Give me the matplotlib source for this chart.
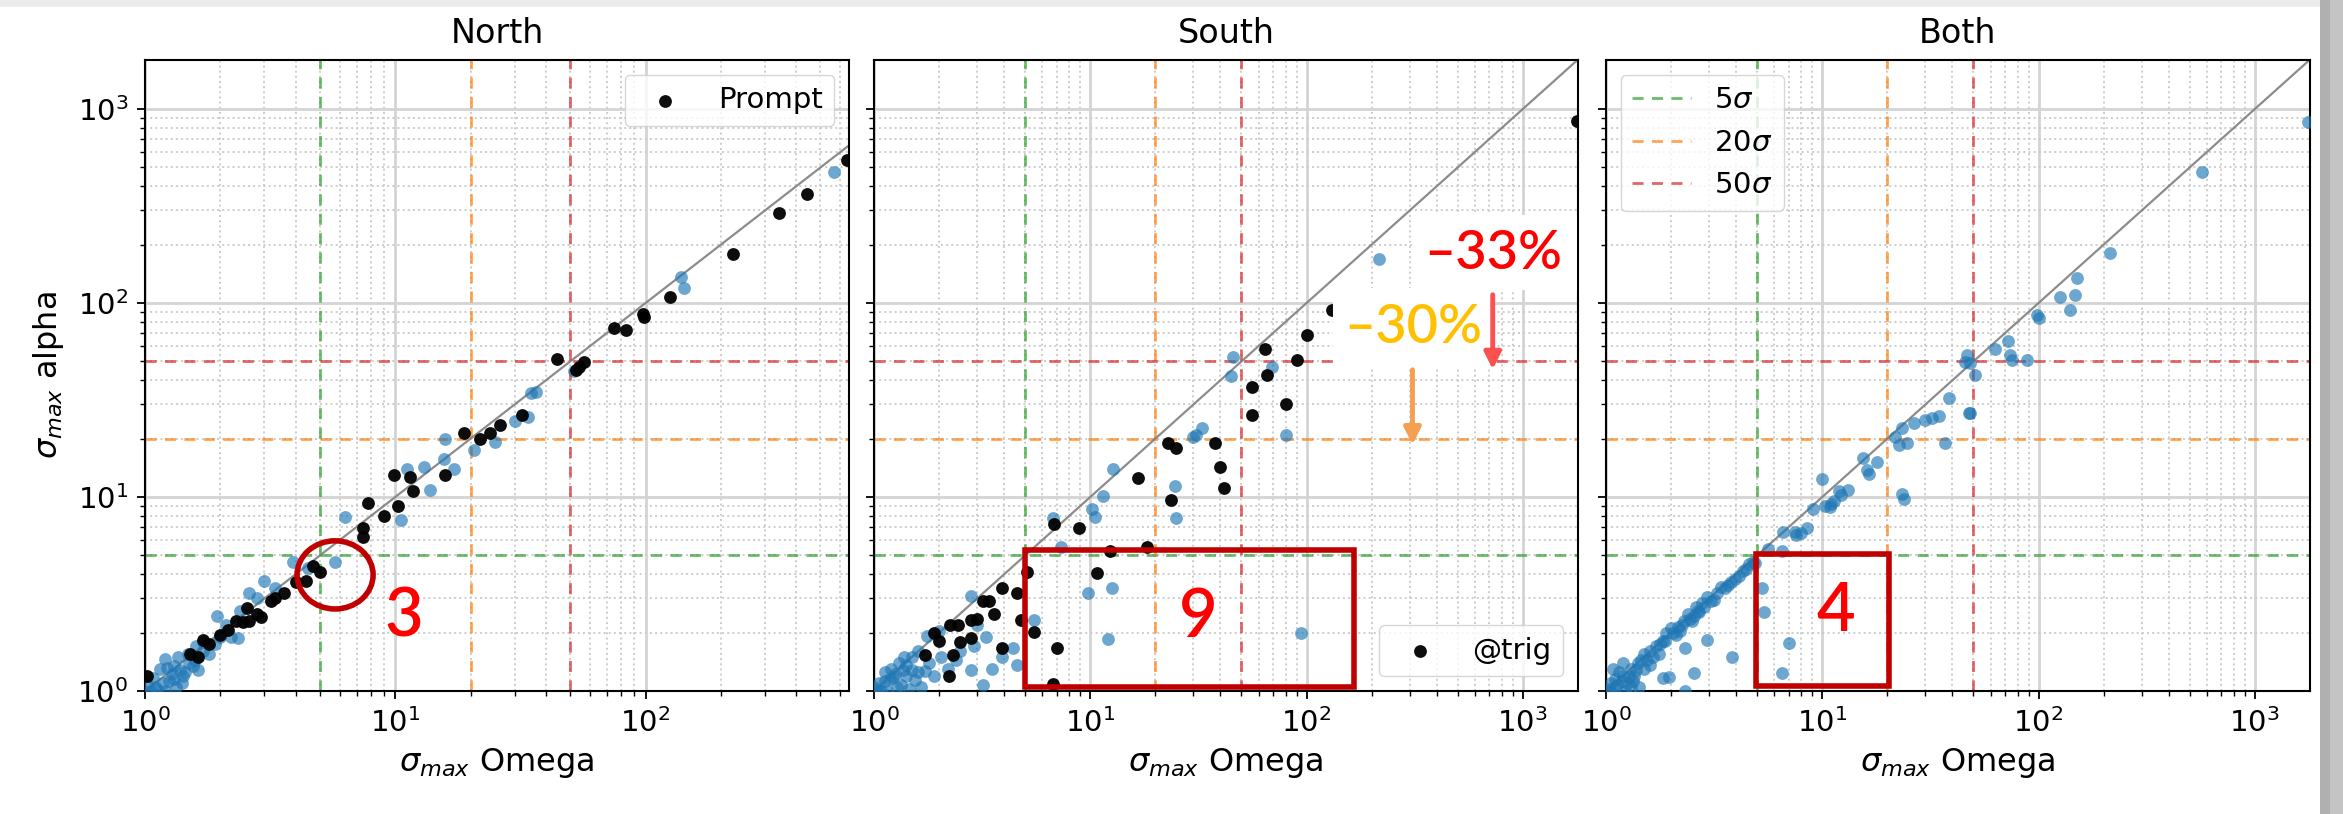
import matplotlib
matplotlib.use("Agg")
import matplotlib.pyplot as plt
from matplotlib.patches import Rectangle, Ellipse
import numpy as np

# ---------------- data ----------------
panel_titles = ["North", "South", "Both"]
x_label = r"$\sigma_{max}$ Omega"
y_label = r"$\sigma_{max}$ alpha"
thresholds = [5, 20, 50]
threshold_labels = [r"5$\sigma$", r"20$\sigma$", r"50$\sigma$"]
threshold_colors = ["C2", "C1", "C3"]

# North: all events (blue)
north_all_x = [1.05, 1.08, 1.12, 1.1, 1.15, 1.2, 1.2, 1.25, 1.3, 1.3, 1.35, 1.4, 1.42, 1.45, 1.5, 1.55,
               1.6, 1.63, 1.7, 1.81, 1.9, 1.94, 2.1, 2.2, 2.36, 2.4, 2.6, 2.8, 3.0, 3.3, 3.9, 4.5,
               5.75, 6.3, 10.5, 11.1, 13.0, 13.8, 15.8, 17.1, 15.7, 20.6, 25.0, 30.2, 34.0, 34.7,
               36.5, 52.0, 138, 143, 567, 1.18, 1.28, 1.38, 1.48, 1.58, 1.02, 1.22, 1.33, 1.7, 2.0]
north_all_y = [1.0, 1.16, 1.02, 1.05, 1.3, 1.47, 1.0, 1.13, 1.35, 1.15, 1.5, 1.1, 1.2, 1.25, 1.4, 1.35,
               1.7, 1.29, 1.6, 1.56, 1.75, 2.45, 2.2, 1.9, 1.87, 2.6, 3.2, 3.0, 3.7, 3.4, 4.6, 4.3,
               4.6, 7.9, 7.6, 14.0, 14.3, 10.9, 20.0, 14.0, 15.7, 17.5, 19.3, 24.7, 26.0, 34.2,
               34.7, 44.7, 136, 120, 475, 1.1, 1.22, 1.28, 1.55, 1.45, 1.08, 1.32, 1.05, 1.78, 1.9]
# North: prompt events (black)
north_prompt_x = [1.02, 1.51, 1.63, 1.71, 1.8, 2.0, 2.15, 2.3, 2.47, 2.55, 2.6, 2.8, 2.9, 3.2, 3.3, 3.6,
                  4.0, 4.4, 4.7, 5.0, 7.4, 7.4, 7.8, 9.0, 10.3, 9.85, 11.5, 11.8, 15.8, 18.8, 21.9,
                  24.0, 26.3, 32.0, 44.3, 52.5, 54.0, 56.6, 75.0, 83.5, 98.0, 99.0, 125, 223, 341,
                  443, 641]
north_prompt_y = [1.19, 1.56, 1.5, 1.83, 1.75, 1.95, 2.06, 2.3, 2.27, 2.67, 2.3, 2.5, 2.4, 2.9, 3.0, 3.2,
                  3.66, 3.7, 4.4, 4.1, 6.9, 6.2, 9.3, 8.0, 9.0, 13.0, 12.7, 10.8, 13.0, 21.5, 20.0,
                  21.5, 23.5, 26.5, 51.3, 45.3, 47.0, 49.8, 74.6, 72.8, 88.0, 85.0, 107, 180, 290,
                  365, 546]

# South: all events (blue)
south_all_x = [1.0, 1.05, 1.12, 1.15, 1.2, 1.25, 1.3, 1.33, 1.4, 1.41, 1.5, 1.55, 1.6, 1.65, 1.72, 1.75,
               1.8, 1.9, 2.0, 2.05, 2.2, 2.5, 2.8, 2.8, 3.0, 3.2, 3.3, 3.5, 3.9, 4.4, 4.6, 5.5,
               6.7, 7.3, 9.8, 12.6, 12.1, 10.2, 10.5, 11.5, 12.7, 24.7, 25.0, 30.7, 32.9, 30.0,
               44.6, 45.8, 69.3, 80.0, 94.0, 216, 1.08, 1.18, 1.28, 1.36, 1.45, 1.03, 1.22,
               1.38, 1.6, 2.4, 2.9, 1.12, 1.5]
south_all_y = [1.05, 1.1, 1.12, 1.0, 1.3, 1.22, 1.4, 1.08, 1.2, 1.36, 1.5, 1.14, 1.6, 1.05, 1.27, 1.92,
               1.4, 1.2, 2.05, 1.5, 1.3, 1.6, 1.29, 3.1, 2.2, 1.07, 1.9, 1.3, 1.5, 1.66, 1.36, 2.32,
               7.8, 5.5, 3.2, 3.4, 1.85, 8.7, 7.9, 10.1, 13.9, 11.4, 7.8, 20.8, 22.6, 20.4,
               42.3, 52.9, 46.9, 20.9, 1.98, 169, 1.0, 1.15, 1.05, 1.28, 1.02, 1.01, 1.18,
               1.5, 1.25, 1.45, 1.7, 1.25, 1.28]
# South: @trig events (black)
south_trig_x = [1.72, 1.9, 2.0, 2.22, 2.25, 2.45, 2.5, 2.8, 2.8, 3.0, 2.33, 3.2, 3.4, 3.6, 3.9, 3.9,
                4.6, 4.8, 5.1, 5.5, 7.0, 6.7, 6.8, 8.9, 10.7, 12.4, 18.2, 16.7, 23.5, 23.0, 25.0,
                37.8, 39.8, 41.4, 56.0, 56.0, 65.7, 64.6, 80.0, 90.8, 100.7, 131, 1774]
south_trig_y = [1.53, 2.0, 1.8, 1.19, 2.2, 2.19, 1.78, 1.87, 2.32, 2.35, 1.53, 2.9, 2.9, 2.5, 3.4, 1.66,
                3.2, 2.32, 4.1, 2.02, 1.66, 1.09, 7.3, 6.9, 4.06, 5.3, 5.5, 12.5, 9.7, 18.9, 17.9,
                19.0, 14.2, 11.1, 26.4, 37.0, 42.6, 58.2, 30.2, 50.9, 68.4, 92.0, 867]

# Both (blue)
both_x = [1.02, 1.05, 1.08, 1.1, 1.1, 1.15, 1.2, 1.2, 1.25, 1.3, 1.3, 1.35, 1.4, 1.45, 1.5, 1.5, 1.6,
          1.6, 1.7, 1.75, 1.83, 1.84, 1.9, 1.95, 2.0, 2.1, 2.15, 2.3, 2.32, 2.32, 2.4, 2.45, 2.5,
          2.54, 2.6, 2.7, 2.78, 2.92, 2.93, 3.15, 3.4, 3.67, 3.78, 3.82, 4.3, 4.45, 4.8, 4.9,
          5.26, 5.35, 7.0, 6.5, 6.5, 6.6, 7.5, 7.6, 8.5, 9.1, 10.9, 11.3, 11.9, 13.2, 9.95, 15.5,
          17.9, 16.1, 16.5, 23.4, 23.8, 21.8, 22.6, 24.7, 23.4, 26.5, 30.0, 32.2, 34.8, 37.0,
          47.6, 38.5, 45.9, 46.7, 48.4, 51.0, 48.0, 63.0, 72.0, 74.0, 75.0, 88.5, 98.6, 100,
          126, 140, 148, 151, 215, 573, 1754,
          1.04, 1.12, 1.18, 1.22, 1.28, 1.33, 1.38, 1.42, 1.55, 1.65, 1.78, 1.88, 2.05, 2.2,
          2.25, 2.55, 2.65, 2.85, 3.05, 3.25, 3.55, 3.95, 4.1, 4.6, 5.6, 8.0, 10.3, 11.0, 12.2]
both_y = [1.02, 1.1, 1.3, 1.15, 1.05, 1.25, 1.2, 1.4, 1.1, 1.3, 1.05, 1.2, 1.4, 1.45, 1.3, 1.55, 1.6,
          1.36, 1.7, 1.55, 1.82, 1.16, 1.98, 1.18, 2.1, 1.95, 2.15, 2.3, 1.66, 1.0, 2.5, 2.35, 2.3,
          1.24, 2.7, 2.55, 2.85, 1.84, 3.05, 2.95, 3.45, 3.5, 3.66, 1.5, 4.17, 4.25, 4.6, 4.55,
          3.38, 2.56, 1.76, 1.24, 5.3, 6.6, 6.6, 6.4, 6.9, 8.7, 8.9, 9.5, 10.7, 10.9, 12.4, 15.8,
          15.2, 13.8, 13.2, 10.4, 9.8, 20.4, 18.5, 18.9, 22.8, 24.1, 24.9, 25.4, 26.3, 19.1,
          27.0, 32.3, 49.8, 53.7, 48.8, 42.7, 27.0, 58.0, 64.0, 53.7, 51.0, 50.8, 86.7, 84.0,
          107, 92.0, 110, 135, 182, 475, 860,
          1.0, 1.08, 1.12, 1.0, 1.18, 1.12, 1.28, 1.05, 1.45, 1.5, 1.75, 1.8, 2.0, 2.05,
          2.2, 2.45, 2.6, 2.7, 2.9, 3.2, 3.4, 3.8, 3.9, 4.5, 5.4, 6.5, 9.0, 9.2, 10.2]

x_max = [650, 1800, 1800]
y_range = (1, 1790)

# ---------------- figure ----------------
W, H = 2343, 814
fig = plt.figure(figsize=(W / 100, H / 100), dpi=100)
fig.patch.set_facecolor("white")

ax_left = [145, 874, 1606]
ax_w = 704
ax_top, ax_bot = 60, 691
axes = []
for i, l in enumerate(ax_left):
    ax = fig.add_axes([l / W, 1 - ax_bot / H, ax_w / W, (ax_bot - ax_top) / H])
    axes.append(ax)

blue_sets = [(north_all_x, north_all_y), (south_all_x, south_all_y), (both_x, both_y)]
black_sets = [(north_prompt_x, north_prompt_y, "Prompt"), (south_trig_x, south_trig_y, "@trig"), None]

for i, ax in enumerate(axes):
    ax.set_xscale("log")
    ax.set_yscale("log")
    ax.set_xlim(1, x_max[i])
    ax.set_ylim(*y_range)
    ax.set_axisbelow(True)
    ax.grid(True, which="major", color="#d4d4d4", linewidth=2.0)
    ax.grid(True, which="minor", color="#cccccc", linewidth=1.4, linestyle=":")
    for t, c, lab in zip(thresholds, threshold_colors, threshold_labels):
        ax.axvline(t, color=c, linestyle="--", linewidth=2.0, alpha=0.7, label=lab,
                   dashes=(4, 3))
        ax.axhline(t, color=c, linestyle="--", linewidth=2.0, alpha=0.7, dashes=(4, 3))
    lim = [1, 2000]
    ax.plot(lim, lim, color="grey", linewidth=1.6, alpha=0.9)
    bx, by = blue_sets[i]
    ax.scatter(bx, by, s=85, color="C0", alpha=0.65, linewidths=0, zorder=3)
    if black_sets[i] is not None:
        kx, ky, lab = black_sets[i]
        ax.scatter(kx, ky, s=85, color="black", alpha=0.95, linewidths=0, zorder=4, label=lab)
    ax.set_title(panel_titles[i], fontsize=24, pad=12)
    ax.set_xlabel(x_label, fontsize=23, labelpad=6)
    ax.tick_params(axis="both", which="major", labelsize=21, length=6, width=1.3, pad=6)
    ax.tick_params(axis="both", which="minor", length=3.5, width=1.0)
    for sp in ax.spines.values():
        sp.set_linewidth(1.5)
    if i > 0:
        ax.tick_params(axis="y", labelleft=False)

axes[0].set_ylabel(y_label, fontsize=23, labelpad=8)

# legends
h, l = axes[0].get_legend_handles_labels()
axes[0].legend([h[-1]], [l[-1]], loc="upper right", fontsize=21, framealpha=0.8)
h, l = axes[1].get_legend_handles_labels()
axes[1].legend([h[-1]], [l[-1]], loc="lower right", fontsize=21, framealpha=0.8)
h, l = axes[2].get_legend_handles_labels()
axes[2].legend(h[:3], l[:3], loc="upper left", fontsize=21, framealpha=0.8)

# ---------------- overlay annotations ----------------
dark_red = "#C00000"
ann_font = ["Lato", "DejaVu Sans"]

# North: circle and "3"
axes[0].add_patch(Ellipse((0.27, 0.184), 0.108, 0.108, transform=axes[0].transAxes,
                          fill=False, edgecolor=dark_red, linewidth=4, zorder=10))
axes[0].text(10.8, 2.4, "3", color="red", fontsize=48, family=ann_font, weight="semibold",
             ha="center", va="center", zorder=11)

# South: rectangle and "9"
axes[1].add_patch(Rectangle((5.0, 1.05), 165 - 5.0, 5.33 - 1.05, fill=False,
                            edgecolor=dark_red, linewidth=4, zorder=10))
axes[1].text(31.6, 2.38, "9", color="red", fontsize=48, family=ann_font, weight="semibold",
             ha="center", va="center", zorder=11)

# South: percentage boxes and arrows
axes[1].add_patch(Rectangle((313, 117), 1780 - 313, 284 - 117, facecolor="white",
                            edgecolor="none", zorder=9))
axes[1].add_patch(Rectangle((132, 46.5), 740 - 132, 119.5 - 46.5, facecolor="white",
                            edgecolor="none", zorder=9))
axes[1].text(730, 180, "–33%", color="#FF0000", fontsize=39, family=ann_font, weight="semibold",
             ha="center", va="center", zorder=11)
axes[1].text(310, 75, "–30%", color="#FFC000", fontsize=39, family=ann_font, weight="semibold",
             ha="center", va="center", zorder=11)
axes[1].annotate("", xy=(726, 44), xytext=(726, 114),
                 arrowprops=dict(arrowstyle="-|>,head_width=0.5,head_length=1.0",
                                 color="#FF5050", linewidth=3.5), zorder=11)
axes[1].annotate("", xy=(309, 18.0), xytext=(309, 46.8),
                 arrowprops=dict(arrowstyle="-|>,head_width=0.5,head_length=1.0",
                                 color="#F4A050", linewidth=3.5), zorder=11)

# Both: rectangle and "4"
axes[2].add_patch(Rectangle((4.95, 1.06), 20.4 - 4.95, 5.08 - 1.06, fill=False,
                            edgecolor=dark_red, linewidth=4, zorder=10))
axes[2].text(11.5, 2.55, "4", color="red", fontsize=48, family=ann_font, weight="semibold",
             ha="center", va="center", zorder=11)

# screenshot frame bands
fig.patches.append(Rectangle((0, 1 - 7 / H), 1, 7 / H, transform=fig.transFigure,
                             facecolor="#ebebeb", edgecolor="none", zorder=0))
fig.patches.append(Rectangle((2320 / W, 0), 23 / W, 1, transform=fig.transFigure,
                             facecolor="#c4c4c4", edgecolor="none", zorder=0))
fig.patches.append(Rectangle((2320 / W, 0), 10 / W, 1, transform=fig.transFigure,
                             facecolor="#b0b0b0", edgecolor="none", zorder=0))

fig.savefig("out.png", dpi=100)
